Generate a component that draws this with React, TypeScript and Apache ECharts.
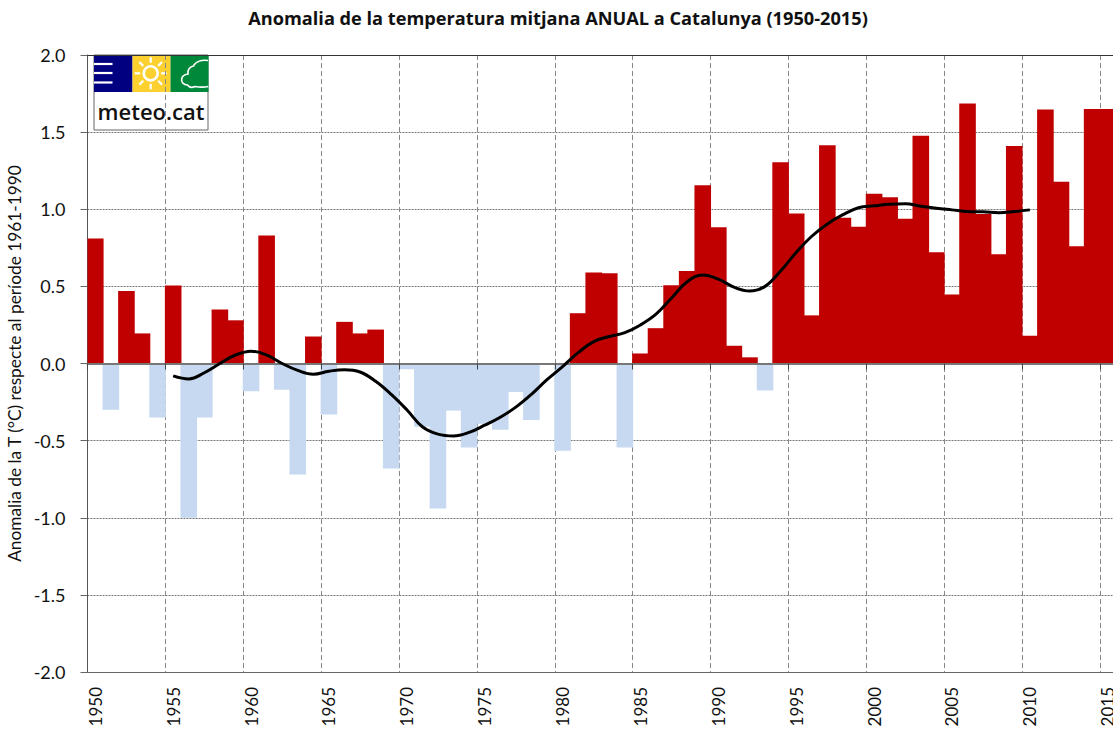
import React, { useEffect, useRef } from "react";
import * as echarts from "echarts";

const titleText = "Anomalia de la temperatura mitjana ANUAL a Catalunya (1950-2015)";
const yAxisName = "Anomalia de la T (°C) respecte al període 1961-1990";
const years = [
  1950, 1951, 1952, 1953, 1954, 1955, 1956, 1957, 1958, 1959, 1960,
  1961, 1962, 1963, 1964, 1965, 1966, 1967, 1968, 1969, 1970,
  1971, 1972, 1973, 1974, 1975, 1976, 1977, 1978, 1979, 1980,
  1981, 1982, 1983, 1984, 1985, 1986, 1987, 1988, 1989, 1990,
  1991, 1992, 1993, 1994, 1995, 1996, 1997, 1998, 1999, 2000,
  2001, 2002, 2003, 2004, 2005, 2006, 2007, 2008, 2009, 2010,
  2011, 2012, 2013, 2014, 2015,
].map(String);
const anomalies = [
  0.81, -0.3, 0.47, 0.195, -0.35, 0.505, -1.0, -0.35, 0.35, 0.28, -0.18,
  0.83, -0.17, -0.72, 0.175, -0.33, 0.27, 0.195, 0.22, -0.68, -0.037,
  -0.41, -0.94, -0.305, -0.545, -0.39, -0.43, -0.185, -0.367, -0.005, -0.565,
  0.326, 0.59, 0.585, -0.545, 0.065, 0.229, 0.508, 0.6, 1.156, 0.884,
  0.115, 0.04, -0.175, 1.305, 0.972, 0.312, 1.415, 0.945, 0.886, 1.1,
  1.078, 0.938, 1.476, 0.722, 0.447, 1.685, 0.97, 0.709, 1.41, 0.18,
  1.647, 1.178, 0.76, 1.65, 1.65,
];
const smoothed = [
  null, null, null, null, null,
  -0.08, -0.1, -0.06, 0.0, 0.055, 0.08,
  0.055, 0.0, -0.045, -0.07, -0.05, -0.04, -0.055, -0.115, -0.2, -0.3,
  -0.41, -0.458, -0.47, -0.447, -0.4, -0.348, -0.283, -0.2, -0.105, -0.02,
  0.07, 0.142, 0.175, 0.2, 0.25, 0.32, 0.425, 0.53, 0.573, 0.547,
  0.495, 0.47, 0.5, 0.6, 0.72, 0.825, 0.905, 0.965, 1.01, 1.022,
  1.033, 1.035, 1.02, 1.007, 0.996, 0.985, 0.983, 0.977, 0.985, 0.996,
  null, null, null, null, null,
];

const FONT = "Lato";
const RED = "#C00000";
const BLUE = "#C6D9F1";

const CLOUD = "M208.3 86.5 C203 87.5 198 87 195 86.5 C192 88 189 87 187.5 85 C183.5 85 181 82 181.7 79 C182 76 185 74.5 188 74 C187 70 190 66.5 193.5 66 C195 62 201 59.5 208 60.5";
echarts.graphic.registerShape("meteoCloud", echarts.graphic.extendPath(CLOUD, {}));

const sunRays = [0, 45, 90, 135, 180, 225, 270, 315].map((deg) => {
  const a = (deg * Math.PI) / 180;
  return {
    type: "line",
    shape: {
      x1: 150.7 + 10.5 * Math.cos(a),
      y1: 73.3 + 10.5 * Math.sin(a),
      x2: 150.7 + 16 * Math.cos(a),
      y2: 73.3 + 16 * Math.sin(a),
    },
    style: { stroke: "#fff", lineWidth: 2.2 },
  };
});

const logo = [
  { type: "rect", shape: { x: 94, y: 55, width: 114, height: 75 }, style: { fill: "#fff", stroke: "#666", lineWidth: 1 } },
  { type: "rect", shape: { x: 94, y: 55, width: 38.5, height: 37 }, style: { fill: "#000080" } },
  { type: "rect", shape: { x: 132.5, y: 55, width: 38, height: 37 }, style: { fill: "#FCD02F" } },
  { type: "rect", shape: { x: 170.5, y: 55, width: 38, height: 37 }, style: { fill: "#00883A" } },
  ...[64, 73, 82.5].map((y) => ({
    type: "line",
    shape: { x1: 94, y1: y, x2: 112.5, y2: y },
    style: { stroke: "#fff", lineWidth: 2.2 },
  })),
  { type: "circle", shape: { cx: 150.7, cy: 73.3, r: 7 }, style: { fill: "none", stroke: "#fff", lineWidth: 2.5 } },
  ...sunRays,
  { type: "meteoCloud", style: { fill: "none", stroke: "#fff", lineWidth: 1.6 } },
  {
    type: "text",
    x: 151,
    y: 111,
    style: {
      text: "meteo.cat",
      fill: "#111",
      font: "600 22px 'Open Sans'",
      textAlign: "center",
      textVerticalAlign: "middle",
    },
  },
];

export default function App() {
  const ref = useRef<HTMLDivElement>(null);
  useEffect(() => {
    document.body.style.margin = "0";
    const chart = echarts.init(ref.current!, undefined, { renderer: "svg" });
    chart.setOption({
      animation: false,
      backgroundColor: "#fff",
      textStyle: { fontFamily: FONT },
      title: {
        text: titleText,
        left: 553,
        textAlign: "center",
        top: 4,
        textStyle: { fontFamily: "Open Sans", fontWeight: "bold", fontSize: 18.2, color: "#111" },
      },
      grid: { left: 87.5, top: 55, width: 1028, height: 617, containLabel: false, outerBoundsMode: "none" },
      xAxis: [
        {
          type: "category",
          data: years,
          position: "bottom",
          axisLine: { onZero: false, lineStyle: { color: "#666", width: 1 } },
          axisTick: { show: false },
          axisLabel: { interval: 4, rotate: 90, fontSize: 17, lineHeight: 12, padding: [0, 0, 2, 0], color: "#111", margin: 15, fontFamily: FONT },
          splitLine: { show: true, interval: 4, lineStyle: { color: "#888", type: [5, 3], width: 1 } },
        },
        {
          type: "category",
          data: years,
          position: "top",
          z: 3,
          axisLine: { onZero: true, lineStyle: { color: "#777", width: 2 } },
          axisTick: { show: true, interval: 4, inside: true, length: 6, lineStyle: { color: "#444" } },
          axisLabel: { show: false },
          splitLine: { show: false },
        },
      ],
      yAxis: {
        type: "value",
        min: -2,
        max: 2,
        interval: 0.5,
        name: yAxisName,
        nameLocation: "middle",
        nameGap: 61,
        nameTextStyle: { fontFamily: FONT, fontSize: 17.3, color: "#111" },
        axisLine: { show: true, onZero: false, lineStyle: { color: "#555" } },
        axisTick: { show: true, length: 7, lineStyle: { color: "#666" } },
        axisLabel: { formatter: (v: number) => v.toFixed(1), fontSize: 18, color: "#111", margin: 22, fontFamily: FONT },
        splitLine: { show: true, lineStyle: { color: "#777", type: [2, 1], width: 1 } },
      },
      series: [
        {
          type: "bar",
          xAxisIndex: 0,
          barWidth: 16.6,
          z: 2,
          data: anomalies.map((v) => ({
            value: v,
            itemStyle: { color: v >= 0 ? RED : BLUE },
          })),
        },
        {
          type: "line",
          xAxisIndex: 0,
          z: 4,
          smooth: 0.4,
          symbol: "none",
          connectNulls: false,
          data: smoothed,
          lineStyle: { color: "#000", width: 3 },
          markLine: {
            silent: true,
            symbol: "none",
            label: { show: false },
            lineStyle: { color: "#333", type: "solid", width: 1 },
            data: [{ yAxis: 2 }],
          },
        },
      ],
      graphic: { elements: [{ type: "group", z: 10, children: logo }] },
    });
    return () => chart.dispose();
  }, []);
  return <div ref={ref} style={{ width: 1113, height: 729 }} />;
}
